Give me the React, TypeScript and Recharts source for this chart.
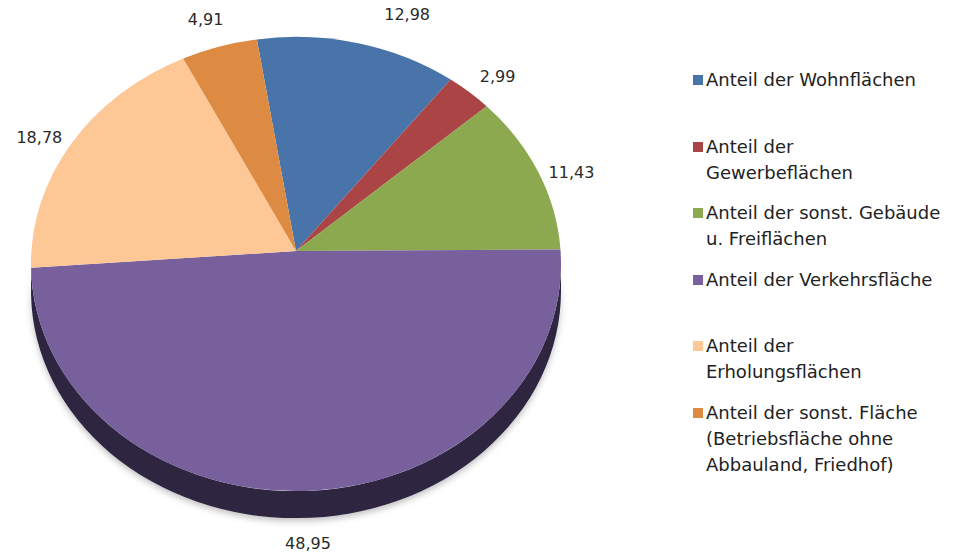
import { PieChart, Pie } from "recharts";

const CATEGORIES = [
  "Anteil der Wohnflächen",
  "Anteil der\nGewerbeflächen",
  "Anteil der sonst. Gebäude\nu. Freiflächen",
  "Anteil der Verkehrsfläche",
  "Anteil der\nErholungsflächen",
  "Anteil der sonst. Fläche\n(Betriebsfläche ohne\nAbbauland, Friedhof)",
];
const VALUES = [12.98, 2.99, 11.43, 48.95, 18.78, 4.91];
const COLORS = ["#4874aa", "#ab4444", "#8da94f", "#77609c", "#fdc796", "#dd8a43"];
const SIDE_COLORS = ["#24385a", "#552222", "#465527", "#2d2540", "#a07a55", "#6e4521"];

const data = CATEGORIES.map((name, i) => ({ name, value: VALUES[i] }));

// tilted-disc look: the pie is squashed into an ellipse, apex sits a bit above its centre
const TILT = 0.857;
const APEX_SHIFT = 13;
const DEPTH = 27;
const LABEL_GAP = 30;
// Excel pushed the first label sideways by hand
const LABEL_NUDGE_X = [38, 0, 0, 0, 0, 0];
const RAD = Math.PI / 180;
const FONT = "'DejaVu Sans', sans-serif";

function fmt(v: number) {
  return v.toFixed(2).replace(".", ",");
}

function renderSlice(props: any) {
  const { cx, cy, outerRadius, startAngle, endAngle, midAngle, index, value } = props;
  const rx = outerRadius;
  const ry = outerRadius * TILT;
  const ecy = cy + APEX_SHIFT;

  // cast a ray from the apex (squashed by TILT) and find where it hits the rim,
  // returned as the ellipse's own parametric angle
  const rimAngle = (a: number) => {
    const dx = Math.cos(a * RAD);
    const dy = -TILT * Math.sin(a * RAD);
    const h = APEX_SHIFT;
    const A = (dx * dx) / (rx * rx) + (dy * dy) / (ry * ry);
    const B = (-2 * h * dy) / (ry * ry);
    const C = (h * h) / (ry * ry) - 1;
    const t = (-B + Math.sqrt(B * B - 4 * A * C)) / (2 * A);
    const px = t * dx;
    const py = -h + t * dy;
    const phi = Math.atan2(-py / ry, px / rx) / RAD;
    return a + ((((phi - a + 540) % 360) + 360) % 360) - 180;
  };
  const pt = (phi: number, dy = 0) => [cx + rx * Math.cos(phi * RAD), ecy + dy - ry * Math.sin(phi * RAD)];

  const ps = rimAngle(startAngle);
  const pe = rimAngle(endAngle);
  const [x1, y1] = pt(ps);
  const [x2, y2] = pt(pe);
  const large = Math.abs(ps - pe) > 180 ? 1 : 0;
  const top = `M${cx},${cy} L${x1},${y1} A${rx},${ry} 0 ${large} 1 ${x2},${y2} Z`;

  // front wall only for the part of the rim facing the viewer
  const hi = Math.min(ps, 0);
  const lo = Math.max(pe, -180);
  let side: string | null = null;
  if (hi > lo) {
    const [a1, b1] = pt(hi);
    const [a2, b2] = pt(lo);
    side = `M${a1},${b1} A${rx},${ry} 0 0 1 ${a2},${b2} L${a2},${b2 + DEPTH} A${rx},${ry} 0 0 0 ${a1},${b1 + DEPTH} Z`;
  }

  const [mx, my] = pt(midAngle);
  const s = Math.sin(midAngle * RAD);
  const lx = mx + LABEL_GAP * Math.cos(midAngle * RAD) + LABEL_NUDGE_X[index];
  const ly = my - LABEL_GAP * s + (s < 0 ? DEPTH - 4 : 0);

  return (
    <g key={`slice-${index}`}>
      {side && <path d={side} fill={SIDE_COLORS[index]} filter="url(#wallShadow)" />}
      <path d={top} fill={COLORS[index]} />
      <text
        x={lx}
        y={ly}
        textAnchor="middle"
        dominantBaseline="central"
        fontFamily={FONT}
        fontSize={16}
        fill="#2a2a2a"
      >
        {fmt(value)}
      </text>
    </g>
  );
}

function LegendBox() {
  return (
    <div style={{ position: "absolute", left: 693, top: 67, fontFamily: FONT, fontSize: 18, color: "#222" }}>
      {CATEGORIES.map((name, i) => (
        <div key={name} style={{ position: "relative", height: 66.6 }}>
          <span
            style={{
              position: "absolute",
              left: 0,
              top: 8,
              width: 10,
              height: 10,
              background: COLORS[i],
            }}
          />
          <div style={{ marginLeft: 13, lineHeight: "26px", whiteSpace: "pre-line" }}>{name}</div>
        </div>
      ))}
    </div>
  );
}

export default function App() {
  return (
    <div style={{ position: "absolute", left: 0, top: 0, width: 954, height: 557, background: "#fff" }}>
      <PieChart width={954} height={557} margin={{ top: 0, right: 0, bottom: 0, left: 0 }}>
        <defs>
          <filter id="wallShadow" x="-10%" y="-10%" width="120%" height="160%">
            <feDropShadow dx="0" dy="3" stdDeviation="3" floodColor="#000" floodOpacity="0.25" />
          </filter>
        </defs>
        <Pie
          data={data}
          dataKey="value"
          nameKey="name"
          cx={296}
          cy={251}
          outerRadius={265}
          startAngle={99}
          endAngle={-261}
          fill="none"
          stroke="none"
          labelLine={false}
          label={renderSlice}
          isAnimationActive={false}
        />
      </PieChart>
      <LegendBox />
    </div>
  );
}
